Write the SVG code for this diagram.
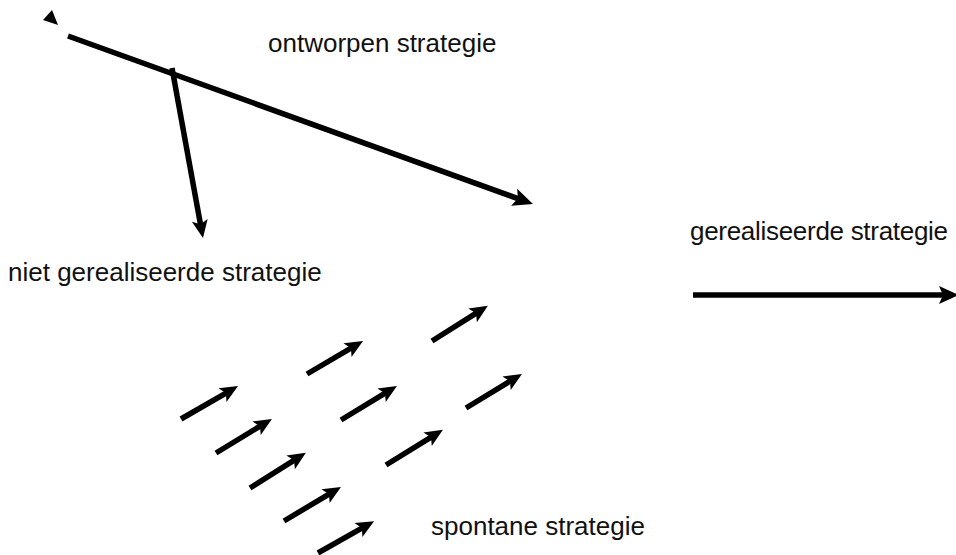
<svg xmlns="http://www.w3.org/2000/svg" width="956" height="555" viewBox="0 0 956 555">
  <style>
    .lbl { font-family: "Liberation Sans", Arial, sans-serif; font-size: 26px; fill: #111; }
    .shaft { stroke: #000; stroke-width: 5.5; fill: none; }
  </style>
  <defs>
    <marker id="head" markerUnits="userSpaceOnUse" markerWidth="20" markerHeight="18" refX="8" refY="8" orient="auto" overflow="visible">
      <path d="M0,0 L18,8 L0,16 L4,8 z" fill="#000"/>
    </marker>
    <marker id="headL" markerUnits="userSpaceOnUse" markerWidth="22" markerHeight="20" refX="9" refY="9" orient="auto" overflow="visible">
      <path d="M0,0 L20,9 L0,18 L4,9 z" fill="#000"/>
    </marker>
  </defs>

  <rect width="956" height="555" fill="#fff"/>

  <g id="connectors">
    <!-- designed strategy -->
    <line class="shaft" x1="68" y1="36" x2="522.6" y2="200.3" marker-end="url(#headL)"/>
    <polygon points="52,10 43,20 58,25" fill="#000"/>
    <!-- unrealised branch -->
    <line class="shaft" x1="172" y1="68" x2="201.2" y2="228.2" marker-end="url(#head)"/>
    <!-- realised strategy -->
    <line class="shaft" x1="693" y1="295" x2="948" y2="295" stroke-width="6" marker-end="url(#headL)"/>
    <!-- emergent strategy arrows -->
    <g id="spontaneous-arrows">
      <line class="shaft" x1="181" y1="419" x2="229.4" y2="391.1" marker-end="url(#head)"/>
      <line class="shaft" x1="216" y1="453" x2="263.4" y2="424.1" marker-end="url(#head)"/>
      <line class="shaft" x1="250" y1="488" x2="297.4" y2="458.1" marker-end="url(#head)"/>
      <line class="shaft" x1="284" y1="521" x2="332.4" y2="492.1" marker-end="url(#head)"/>
      <line class="shaft" x1="318" y1="553" x2="365.4" y2="526.1" marker-end="url(#head)"/>
      <line class="shaft" x1="307" y1="374" x2="354.4" y2="346.1" marker-end="url(#head)"/>
      <line class="shaft" x1="341" y1="420" x2="388.4" y2="391.1" marker-end="url(#head)"/>
      <line class="shaft" x1="386" y1="465" x2="434.4" y2="435.1" marker-end="url(#head)"/>
      <line class="shaft" x1="432" y1="341" x2="479.4" y2="311.1" marker-end="url(#head)"/>
      <line class="shaft" x1="466" y1="408" x2="513.4" y2="379.1" marker-end="url(#head)"/>
    </g>
  </g>

  <g id="label-ontworpen">
    <text class="lbl" x="268" y="52">ontworpen strategie</text>
  </g>
  <g id="label-niet-gerealiseerd">
    <text class="lbl" x="8" y="281">niet gerealiseerde strategie</text>
  </g>
  <g id="label-gerealiseerd">
    <text class="lbl" x="690" y="240" textLength="258">gerealiseerde strategie</text>
  </g>
  <g id="label-spontaan">
    <text class="lbl" x="431" y="535">spontane strategie</text>
  </g>
</svg>
